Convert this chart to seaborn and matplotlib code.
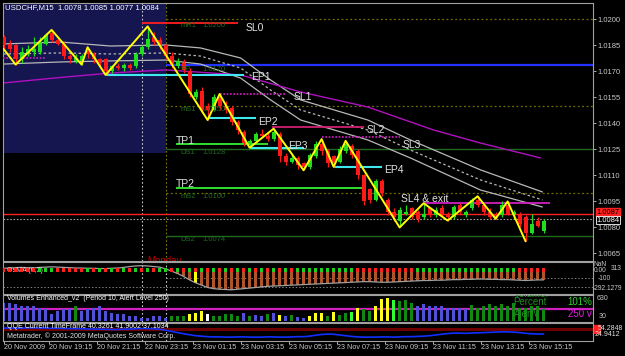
import numpy as np
import matplotlib
matplotlib.use("Agg")
import matplotlib.pyplot as plt
import matplotlib.transforms as mtrans
import seaborn as sns

sns.set_style("dark")
plt.rcParams['font.family'] = ['Liberation Sans', 'DejaVu Sans']

# ---------------- data ----------------
opens = [1.0190, 1.0186, 1.0185, 1.0177, 1.0180, 1.0181, 1.0181, 1.0186, 1.0192, 1.0188,
         1.0186, 1.0179, 1.0176, 1.0176, 1.0182, 1.0180, 1.0177, 1.0177, 1.0170, 1.0173,
         1.0172, 1.0174, 1.0173, 1.0180, 1.0184, 1.0190, 1.0188, 1.0185, 1.0179, 1.0173,
         1.0175, 1.0170, 1.0155, 1.0159, 1.0150, 1.0148, 1.0155, 1.0150, 1.0149, 1.0141,
         1.0135, 1.0128, 1.0130, 1.0134, 1.0133, 1.0131, 1.0134, 1.0121, 1.0118, 1.0120,
         1.0117, 1.0115, 1.0121, 1.0128, 1.0124, 1.0121, 1.0118, 1.0124, 1.0127, 1.0124,
         1.0110, 1.0102, 1.0096, 1.0107, 1.0096, 1.0089, 1.0084, 1.0088, 1.0091, 1.0089,
         1.0086, 1.0091, 1.0087, 1.0091, 1.0088, 1.0086, 1.0093, 1.0087, 1.0091, 1.0096,
         1.0093, 1.0089, 1.0088, 1.0087, 1.0093, 1.0087, 1.0088, 1.0086, 1.0077, 1.0084,
         1.0078]
highs = [1.0191, 1.0188, 1.0186, 1.0184, 1.0185, 1.0190, 1.0190, 1.0192, 1.0194, 1.0190,
         1.0187, 1.0180, 1.0180, 1.0180, 1.0184, 1.0181, 1.0178, 1.0178, 1.0174, 1.0175,
         1.0175, 1.0175, 1.0181, 1.0185, 1.0196, 1.0193, 1.0190, 1.0186, 1.0181, 1.0178,
         1.0177, 1.0172, 1.0160, 1.0161, 1.0152, 1.0157, 1.0157, 1.0153, 1.0150, 1.0142,
         1.0136, 1.0131, 1.0135, 1.0137, 1.0135, 1.0137, 1.0135, 1.0123, 1.0122, 1.0121,
         1.0118, 1.0123, 1.0130, 1.0131, 1.0125, 1.0122, 1.0127, 1.0130, 1.0128, 1.0125,
         1.0111, 1.0103, 1.0108, 1.0108, 1.0097, 1.0091, 1.0092, 1.0093, 1.0092, 1.0090,
         1.0094, 1.0092, 1.0092, 1.0093, 1.0089, 1.0093, 1.0094, 1.0090, 1.0097, 1.0098,
         1.0094, 1.0091, 1.0089, 1.0095, 1.0095, 1.0090, 1.0089, 1.0087, 1.0088, 1.0086,
         1.0085]
lows = [1.0183, 1.0181, 1.0174, 1.0175, 1.0179, 1.0179, 1.0180, 1.0185, 1.0187, 1.0185,
        1.0177, 1.0175, 1.0175, 1.0174, 1.0178, 1.0175, 1.0173, 1.0168, 1.0169, 1.0171,
        1.0170, 1.0171, 1.0172, 1.0179, 1.0183, 1.0185, 1.0183, 1.0177, 1.0172, 1.0172,
        1.0169, 1.0155, 1.0154, 1.0146, 1.0142, 1.0147, 1.0148, 1.0146, 1.0139, 1.0134,
        1.0127, 1.0126, 1.0129, 1.0132, 1.0130, 1.0130, 1.0118, 1.0116, 1.0117, 1.0114,
        1.0113, 1.0114, 1.0120, 1.0122, 1.0115, 1.0115, 1.0117, 1.0123, 1.0120, 1.0108,
        1.0093, 1.0094, 1.0095, 1.0098, 1.0087, 1.0084, 1.0080, 1.0087, 1.0085, 1.0083,
        1.0085, 1.0086, 1.0086, 1.0086, 1.0084, 1.0085, 1.0088, 1.0086, 1.0090, 1.0092,
        1.0087, 1.0085, 1.0085, 1.0086, 1.0087, 1.0085, 1.0080, 1.0072, 1.0076, 1.0080,
        1.0077]
closes = [1.0185, 1.0183, 1.0177, 1.0181, 1.0183, 1.0183, 1.0187, 1.0191, 1.0188, 1.0186,
          1.0179, 1.0177, 1.0178, 1.0179, 1.0180, 1.0177, 1.0175, 1.0170, 1.0173, 1.0172,
          1.0174, 1.0172, 1.0180, 1.0184, 1.0189, 1.0187, 1.0185, 1.0179, 1.0174, 1.0176,
          1.0171, 1.0157, 1.0158, 1.0148, 1.0148, 1.0155, 1.0150, 1.0148, 1.0141, 1.0136,
          1.0129, 1.0130, 1.0134, 1.0133, 1.0131, 1.0135, 1.0121, 1.0118, 1.0120, 1.0116,
          1.0115, 1.0122, 1.0128, 1.0124, 1.0117, 1.0117, 1.0125, 1.0128, 1.0122, 1.0110,
          1.0095, 1.0096, 1.0107, 1.0100, 1.0089, 1.0086, 1.0090, 1.0089, 1.0086, 1.0085,
          1.0088, 1.0087, 1.0090, 1.0088, 1.0086, 1.0092, 1.0089, 1.0089, 1.0096, 1.0093,
          1.0089, 1.0086, 1.0086, 1.0093, 1.0088, 1.0089, 1.0082, 1.0077, 1.0082, 1.0081,
          1.0084]

zz_idx = [0, 2, 8, 13, 14, 17, 24, 34, 36, 41, 45, 50, 53, 55, 57, 66, 70, 74, 79, 82, 84, 87]
zz_price = [1.0183, 1.0174, 1.0194, 1.0174, 1.0184, 1.0168, 1.0196, 1.0142, 1.0157, 1.0126,
            1.0137, 1.0113, 1.0131, 1.0115, 1.0130, 1.0080, 1.0094, 1.0084, 1.0098, 1.0085,
            1.0095, 1.0072]

ma_idx = [0, 9.5, 17.8, 27, 32.8, 39.5, 44.5, 49.5, 60.7, 67.8, 79.5, 89.8]
ma_upper = [1.01859, 1.01870, 1.01847, 1.01853, 1.01836, 1.01778, 1.01651, 1.01536, 1.01420, 1.01305, 1.01132, 1.01005]
ma_mid = [1.01801, 1.01807, 1.01801, 1.01807, 1.01789, 1.01720, 1.01593, 1.01478, 1.01362, 1.01247, 1.01074, 1.00959]
ma_lower = [1.01743, 1.01755, 1.01761, 1.01766, 1.01743, 1.01662, 1.01536, 1.01420, 1.01305, 1.01201, 1.01016, 1.00918]
purple_idx = [0, 8.7, 17.8, 27, 39.5, 49.5, 60.7, 71.7, 79.5, 89.5]
purple_ma = [1.01634, 1.01663, 1.01691, 1.01709, 1.01680, 1.01582, 1.01495, 1.01362, 1.01287, 1.01201]

price_ticks = [1.0200, 1.0185, 1.0170, 1.0155, 1.0140, 1.0125, 1.0110, 1.0095, 1.0080, 1.0065]

time_ticks = [0, 7.6, 15.6, 23.6, 31.6, 39.6, 47.6, 55.6, 63.6, 71.6, 79.6, 87.6]
time_labels = ["20 Nov 2009", "20 Nov 19:15", "20 Nov 21:15", "22 Nov 23:15", "23 Nov 01:15",
               "23 Nov 03:15", "23 Nov 05:15", "23 Nov 07:15", "23 Nov 09:15", "23 Nov 11:15",
               "23 Nov 13:15", "23 Nov 15:15"]

osma = [30, 35, 40, 45, 40, 35, 45, 50, 55, 50, 45, 40, 35, 35, 30, 30, 25, 25, 30, 35, 45, 60,
        70, 75, 70, 60, 50,
        20, -20, -60, -110, -170, -220,
        -260, -300, -320, -330, -335, -340, -330, -320,
        -310, -300, -290, -280, -275, -270, -265, -260, -255, -250,
        -245, -240, -235, -230, -225, -220, -215, -210, -205, -200,
        -200, -205, -210, -210, -205, -200, -195, -190, -185, -180,
        -180, -175, -175, -170, -165, -165, -160, -160, -155, -155,
        -160, -160, -165, -165, -170, -175, -180, -175, -170, -170]
osma_dots = list("rrrrrr" "ggg" "rrrrr" "grgrgrgrgrgrg" "grgrgrgrgrgrgrgrgrgrgrg"
                 "ggggggggg" "rrrrrrrrrr" "ggggggggggggggggg" "rrrrr")

volume = [380, 380, 345, 310, 310, 310, 276, 242, 138, 207, 242, 242, 310, 207, 242, 276, 310,
          207, 173, 138, 138, 104, 104, 69, 69, 104, 104, 69, 104, 104, 104, 138, 173, 207,
          138, 104, 104, 138, 138, 104, 173, 104,
          117, 104, 138, 159, 117, 104, 131, 90,
          69, 104, 159, 173, 104, 186, 117, 173, 186, 276, 242, 207, 310, 449, 483, 435,
          414, 435, 380, 310, 345, 310, 310, 310, 276, 276, 276, 242, 324, 276, 310, 345,
          310, 345, 310, 380, 276, 276, 310, 310, 242]
vol_codes = list("bbbbbbbbbbbb" "g" "bbbbbbbbbbbbbbb" "ggg" "yyy" "w" "ggggg" "b" "g"
                 "bbgbybgb" "b" "yyy" "g" "y" "gg" "l" "y" "gg" "yyy" "l" "ggg"
                 "bbbbbbbbb" "ggggggggggggg")

qqe = [54, 54, 53, 54, 55, 55, 54, 54, 53, 53, 52, 52, 51, 51,
       50, 50, 49, 49, 48, 48, 49, 50, 51, 52, 52, 51, 49,
       45, 40, 35, 30, 26, 22, 20,
       18, 17, 17, 16, 16, 17, 17, 16, 16, 16, 17, 17, 16, 16, 17, 18, 18,
       20, 24, 27, 29, 28, 25, 22, 19,
       17, 16, 16, 16, 17, 17, 16, 17, 18, 18, 19, 20,
       22, 25, 28, 31, 33, 33, 32, 33, 34, 35,
       36, 37, 38, 38, 37, 35, 32, 30, 29, 29]

idx = np.arange(len(closes))

# ---------------- layout ----------------
W, H = 625, 356
fig = plt.figure(figsize=(W / 100, H / 100), dpi=100, facecolor='black')


def fx(px):
    return px / W


def fy(py):
    return 1 - py / H


def panel(top, bottom):
    ax = fig.add_axes([fx(3), fy(bottom), fx(590), (bottom - top) / H])
    ax.set_facecolor('black')
    for s in ax.spines.values():
        s.set_color('#a0a0a0')
        s.set_linewidth(0.8)
    ax.set_xlim(-0.1, 98.23)
    ax.tick_params(left=False, bottom=False, labelleft=False, labelbottom=False)
    ax.grid(False)
    return ax


main = panel(3, 261)
osax = panel(262, 294)
vax = panel(295, 322)
qax = panel(323, 341)

YMIN, YMAX = 1.006065, 1.020952
main.set_ylim(YMIN, YMAX)

# shaded session rectangle
main.fill_between([-0.1, 27], [1.01230, 1.01230], [YMAX, YMAX], color='#15154f', zorder=0, lw=0)

# vertical separators
for a in (main, osax, vax, qax):
    a.axvline(23, color='#c8c8c8', ls=(0, (1.5, 2)), lw=0.8, zorder=1)
main.axvline(27, color='#7a7a00', ls=(0, (1.5, 2)), lw=0.8, zorder=1)
for a in (osax, vax, qax):
    a.axvline(27, color='#c8c8c8', ls=(0, (1.5, 2)), lw=0.8, zorder=1)

RIGHT = 98.3
olive = '#707000'
dgreen = '#1f6a1f'
# pivot-like levels
for lvl in (1.0200, 1.0150, 1.0100):
    main.hlines(lvl, 27, RIGHT, color=olive, ls=(0, (1.5, 2)), lw=0.9, zorder=1)
for lvl in (1.01255, 1.0075):
    main.hlines(lvl, 27, RIGHT, color='#1f6a1f', lw=1.0, zorder=1)
main.hlines(1.01740, 27, RIGHT, color='#2233ff', lw=1.6, zorder=1)
main.hlines(1.00878, -0.1, RIGHT, color='#ff2020', lw=1.0, zorder=1)
main.hlines(1.00849, -0.1, RIGHT, color='#a0a0a0', ls=(0, (1.5, 1.5)), lw=0.8, zorder=1)

# moving averages
sns.lineplot(x=ma_idx, y=ma_upper, ax=main, color='#b8b8b8', lw=0.9, sort=False, zorder=2)
sns.lineplot(x=ma_idx, y=ma_mid, ax=main, color='#b8b8b8', lw=0.9, sort=False, zorder=2,
             linestyle=(0, (2, 2)))
sns.lineplot(x=ma_idx, y=ma_lower, ax=main, color='#b8b8b8', lw=0.9, sort=False, zorder=2)
sns.lineplot(x=purple_idx, y=purple_ma, ax=main, color='#b010c0', lw=1.0, sort=False, zorder=2)

# trade levels
cyan = '#40e8f0'
mag = '#d020c0'
main.hlines(1.01980, 23, 39, color='#ff2020', lw=1.3, zorder=3)
main.hlines(1.01680, 17, 40, color=cyan, lw=1.5, zorder=3)
main.hlines(1.01570, 36, 47, color=mag, lw=1.2, ls=(0, (1, 1)), zorder=3)
main.hlines(1.01430, 34, 42, color=cyan, lw=1.5, zorder=3)
main.hlines(1.01380, 44.8, 60, color='#d02070', lw=1.3, zorder=3)
main.hlines(1.01320, 53, 66, color=mag, lw=1.2, ls=(0, (1, 1)), zorder=3)
main.hlines(1.01280, 28.7, 44, color='#30e030', lw=1.4, zorder=3)
main.hlines(1.01260, 41, 50, color=cyan, lw=1.5, zorder=3)
main.hlines(1.01150, 55, 63, color=cyan, lw=1.5, zorder=3)
main.hlines(1.01030, 28.7, 60, color='#30e030', lw=1.4, zorder=3)
main.hlines(1.00940, 70, 91, color=mag, lw=1.3, zorder=3)
main.hlines(1.01780, -0.1, 7, color=mag, lw=1.2, ls=(0, (1, 1)), zorder=3)

# candles
bull, bear = '#20dd20', '#ff1a1a'
for i in idx:
    o, h, l, c = opens[i], highs[i], lows[i], closes[i]
    col = bull if c >= o else bear
    main.vlines(i, l, h, color=col, lw=0.9, zorder=4)
    body = max(abs(c - o), 0.00004)
    main.bar(i, body, bottom=min(o, c), width=0.65, color=col, lw=0, zorder=4)

# zigzag
sns.lineplot(x=zz_idx, y=zz_price, ax=main, color='#ffff00', lw=1.4, sort=False, zorder=5)

# level labels
lab = dict(color='#e0e0e0', fontsize=7.5, va='center', ha='left', zorder=6)
for name, xi, yp in [("SL0", 40.3, 1.01951), ("EP1", 41.2, 1.01668), ("SL1", 48.3, 1.01553),
                     ("EP2", 42.5, 1.01409), ("SL2", 60.5, 1.01362), ("SL3", 66.5, 1.01276),
                     ("TP1", 28.7, 1.01299), ("EP3", 47.5, 1.01270), ("EP4", 63.5, 1.01132),
                     ("TP2", 28.7, 1.01051), ("SL4 & exit", 66.2, 1.00964)]:
    main.text(xi, yp, name, **lab)

pl = dict(color=dgreen, fontsize=5.5, va='center', ha='left', zorder=6)
for name, val, yp in [("mR1", "1.0200", 1.01968), ("PP", "1.0170", 1.01709), ("mS1", "1.0150", 1.01478),
                      ("DS1", "1.0128", 1.01235), ("mS2", "1.0100", 1.00976), ("DS2", "1.0074", 1.00728)]:
    main.text(29.5, yp, name, **pl)
    main.text(33.2, yp, val, **pl)

main.text(24, 1.00608, "Monday", color='#c00000', fontsize=7, va='center', ha='left',
          clip_on=True, zorder=6)

# right price axis
main.yaxis.tick_right()
main.set_yticks(price_ticks)
main.set_yticklabels([f"{p:.4f}" for p in price_ticks])
main.tick_params(axis='y', right=True, labelright=True, length=2, width=0.6,
                 colors='#c8c8c8', labelsize=5.5, pad=1)
main.tick_params(left=False, labelleft=False)
tr = mtrans.blended_transform_factory(main.transAxes, main.transData)
main.text(1.006, 1.00885, "1.0087", transform=tr, fontsize=5.5, color='black', va='center',
          ha='left', bbox=dict(boxstyle='square,pad=0.1', fc='#ff2020', ec='#ff2020'), zorder=7,
          clip_on=False)
main.text(1.006, 1.00843, "1.0084", transform=tr, fontsize=5.5, color='white', va='center',
          ha='left', bbox=dict(boxstyle='square,pad=0.1', fc='black', ec='white', lw=0.6),
          zorder=8, clip_on=False)

fig.text(fx(5), fy(8), "USDCHF,M15  1.0078 1.0085 1.0077 1.0084", color='white',
         fontsize=5.6, va='center', ha='left')

# ---------------- OsMA panel ----------------
osax.set_ylim(-412, 138)
osax.hlines([-140, -292], 27, RIGHT, color='#808080', ls=(0, (1.5, 2)), lw=0.7)
osax.hlines([-292], -0.1, 27, color='#808080', ls=(0, (1.5, 2)), lw=0.7)
neg = np.minimum(np.array(osma), 0)
hist_cols = ['#ffff00' if i == 32 else '#b0542c' for i in idx]
osax.bar(idx, neg, width=0.4, color=hist_cols, lw=0, zorder=2)
sns.lineplot(x=idx, y=osma, ax=osax, color='#a0a0a0', lw=0.9, zorder=3)
dot_map = {'r': '#ff2020', 'g': '#20d020'}
osax.scatter(idx, np.zeros(len(idx)), marker='s', s=5,
             c=[dot_map[c] for c in osma_dots], zorder=4, linewidths=0)
osax.text(0.5, 0, "OsMA (6,3)", color='#dddddd', fontsize=5, va='center', ha='left', zorder=3)
for t, px, py in [("NaN", 594, 264), ("0.00", 594, 270), ("313", 611, 268),
                  ("-100", 598, 279), ("-292.1279", 593, 288)]:
    fig.text(fx(px), fy(py), t, color='#c8c8c8', fontsize=4.8, va='center', ha='left')

# ---------------- Volume panel ----------------
vax.set_ylim(-20, 540)
vcol = {'b': '#5050d8', 'g': '#108a10', 'l': '#30ff30', 'y': '#ffff20', 'w': '#ffffff'}
vax.bar(idx, volume, width=0.38, color=[vcol[c] for c in vol_codes], lw=0, zorder=2)
vax.axhline(250, color='#d020c0', lw=1.6, zorder=1)
vax.text(0.5, 470, "Volumes Enhanced_v2  (Period 10, Alert Level 250)", color='white',
         fontsize=5, va='center', ha='left', zorder=3)
vax.text(85, 570, "Volume:", color='#1f8a1f', fontsize=7, va='center', ha='left', clip_on=True)
vax.text(85, 390, "Percent", color='#1f8a1f', fontsize=7, va='center', ha='left')
vax.text(94, 390, "101%", color='#2fd02f', fontsize=7, va='center', ha='left')
vax.text(85, 150, "AlertV", color='#1f8a1f', fontsize=7, va='center', ha='left')
vax.text(94, 150, "250 v", color='#e020e0', fontsize=7, va='center', ha='left')
fig.text(fx(597), fy(298), "630", color='#c8c8c8', fontsize=5, va='center', ha='left')
fig.text(fx(599), fy(316), "30", color='#c8c8c8', fontsize=5, va='center', ha='left')

# ---------------- QQE panel ----------------
qax.set_ylim(-0.2, 75.2)
qax.axhline(50, color='#700000', lw=2.2, zorder=1)
sns.lineplot(x=idx, y=qqe, ax=qax, color='#1030ff', lw=1.2, zorder=2)
qax.text(0.5, 61, "QQE Current TimeFrame 40.3261 41.9002 37.1034", color='white',
         fontsize=5, va='center', ha='left', zorder=3)
qax.text(0.5, 22, "Metatrader, \u00a9 2001-2009 MetaQuotes Software Corp.", color='#e0e0e0',
         fontsize=5, va='center', ha='left', zorder=3)
fig.patches.append(matplotlib.patches.Rectangle((fx(594), fy(333)), fx(6), 8 / H,
                                                transform=fig.transFigure, color='#ff2020'))
fig.text(fx(598), fy(328), "54.2848", color='#e0e0e0', fontsize=5, va='center', ha='left')
fig.text(fx(595), fy(335), "24.9412", color='#e0e0e0', fontsize=5, va='center', ha='left')

# time axis
qax.set_xticks(time_ticks)
qax.set_xticklabels(time_labels)
qax.tick_params(axis='x', bottom=True, labelbottom=True, length=2, width=0.6,
                colors='#c8c8c8', labelsize=5.2, pad=0.5)
for lbl in qax.get_xticklabels():
    lbl.set_ha('left')

fig.savefig("out.png", dpi=100, facecolor='black')
